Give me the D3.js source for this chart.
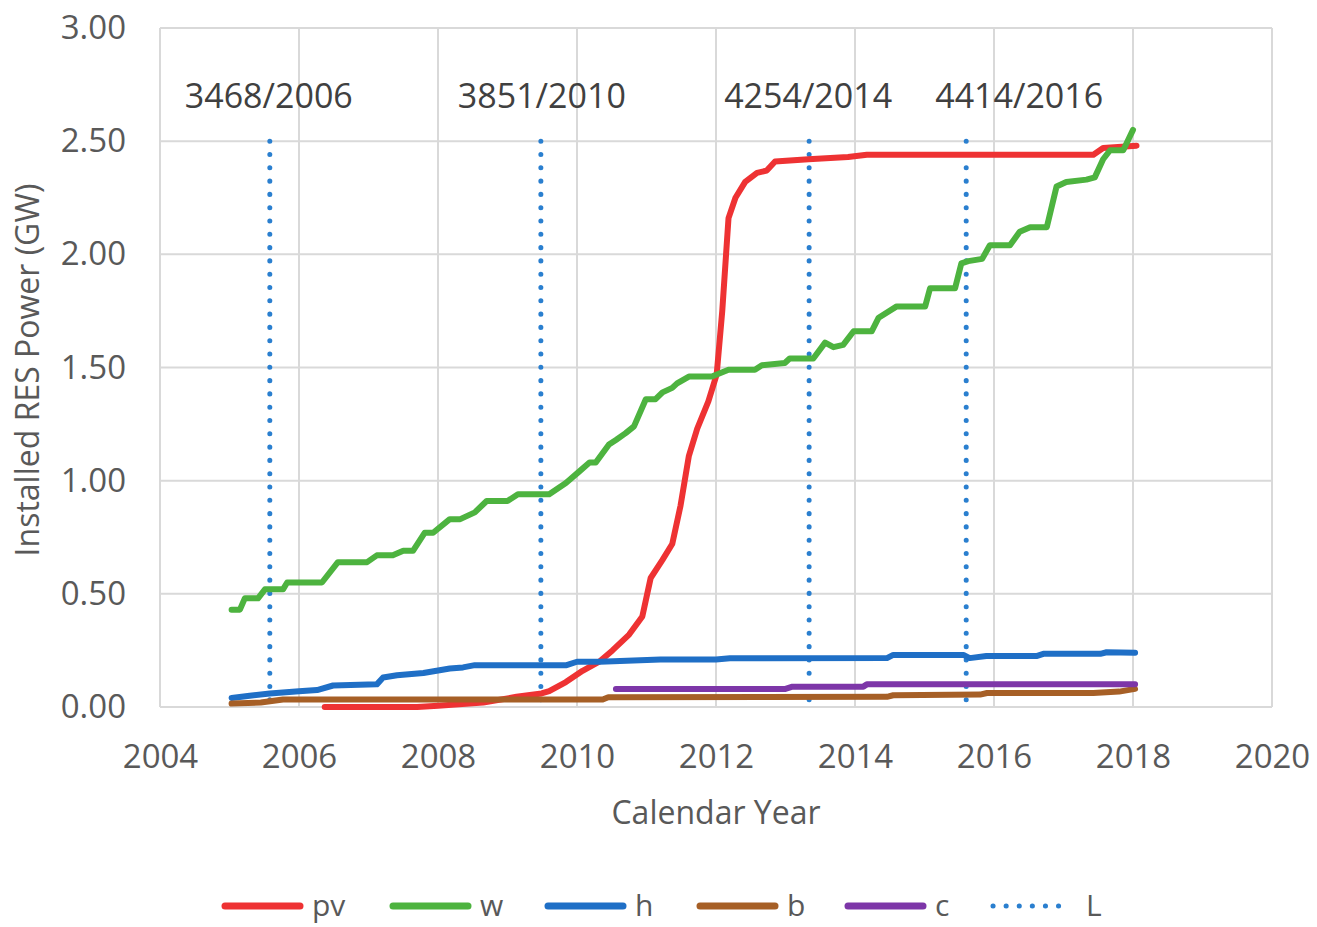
<!doctype html>
<html>
  <head>
    <meta charset='utf-8'>
    <script src="https://d3js.org/d3.v7.min.js"></script>
    <style>
      body { margin: 0; background: #fff; }
      text { font-family: "Open Sans", sans-serif; }
    </style>
  </head>
  <body>
  <svg width="1317" height="927"></svg>
  <script>
    // installed power (GW) by calendar year
    const pv = [[2006.37,0],[2007.7,0],[2008.0,0.005],[2008.65,0.02],[2009.13,0.045],[2009.49,0.06],[2009.6,0.07],
      [2009.84,0.11],[2010.08,0.16],[2010.32,0.20],[2010.51,0.25],[2010.75,0.32],[2010.94,0.40],[2011.06,0.57],
      [2011.23,0.65],[2011.37,0.72],[2011.49,0.89],[2011.61,1.11],[2011.73,1.23],[2011.89,1.35],[2012.01,1.47],
      [2012.09,1.75],[2012.18,2.16],[2012.28,2.25],[2012.42,2.32],[2012.59,2.36],[2012.73,2.37],[2012.85,2.41],
      [2013.33,2.42],[2013.9,2.43],[2014.17,2.44],[2017.43,2.44],[2017.57,2.47],[2018.05,2.48]];
    const w = [[2005.03,0.43],[2005.15,0.43],[2005.22,0.48],[2005.41,0.48],[2005.51,0.52],[2005.77,0.52],[2005.83,0.55],
      [2006.33,0.55],[2006.56,0.64],[2006.98,0.64],[2007.12,0.67],[2007.35,0.67],[2007.5,0.69],[2007.64,0.69],
      [2007.81,0.77],[2007.93,0.77],[2008.17,0.83],[2008.32,0.83],[2008.53,0.86],[2008.7,0.91],[2009.0,0.91],
      [2009.15,0.94],[2009.6,0.94],[2009.84,0.99],[2010.03,1.04],[2010.18,1.08],[2010.27,1.08],[2010.46,1.16],
      [2010.56,1.18],[2010.7,1.21],[2010.82,1.24],[2010.99,1.36],[2011.13,1.36],[2011.23,1.39],[2011.37,1.41],
      [2011.44,1.43],[2011.61,1.46],[2011.94,1.46],[2012.18,1.49],[2012.56,1.49],[2012.66,1.51],[2012.99,1.52],
      [2013.06,1.54],[2013.4,1.54],[2013.57,1.61],[2013.69,1.59],[2013.83,1.60],[2013.98,1.66],[2014.24,1.66],
      [2014.34,1.72],[2014.6,1.77],[2015.01,1.77],[2015.08,1.85],[2015.44,1.85],[2015.53,1.96],[2015.63,1.97],
      [2015.83,1.98],[2015.94,2.04],[2016.23,2.04],[2016.37,2.10],[2016.52,2.12],[2016.76,2.12],[2016.9,2.30],
      [2017.04,2.32],[2017.33,2.33],[2017.45,2.34],[2017.57,2.42],[2017.67,2.46],[2017.86,2.46],[2018.0,2.55]];
    const h = [[2005.03,0.04],[2005.29,0.05],[2005.58,0.06],[2006.0,0.07],[2006.26,0.075],[2006.49,0.095],[2007.12,0.10],
      [2007.21,0.13],[2007.41,0.14],[2007.79,0.15],[2007.98,0.16],[2008.17,0.17],[2008.36,0.175],[2008.53,0.185],
      [2009.85,0.185],[2010.0,0.20],[2010.33,0.20],[2011.2,0.21],[2012.0,0.21],[2012.2,0.215],[2014.46,0.216],
      [2014.55,0.23],[2015.56,0.23],[2015.65,0.216],[2015.89,0.225],[2016.61,0.225],[2016.71,0.235],[2017.53,0.235],
      [2017.62,0.242],[2018.03,0.24]];
    const b = [[2005.03,0.015],[2005.45,0.02],[2005.77,0.033],[2010.37,0.033],[2010.45,0.043],[2014.46,0.045],
      [2014.55,0.052],[2015.8,0.055],[2015.9,0.062],[2017.43,0.062],[2017.8,0.068],[2018.03,0.08]];
    const c = [[2010.56,0.08],[2013.0,0.08],[2013.1,0.09],[2014.12,0.09],[2014.17,0.1],[2018.03,0.1]];

    const markerYears = [2005.58, 2009.48, 2013.34, 2015.6];
    const markerLabels = ["3468/2006", "3851/2010", "4254/2014", "4414/2016"];
    const xTicks = [2004, 2006, 2008, 2010, 2012, 2014, 2016, 2018, 2020];
    const yTicks = [0, 0.5, 1, 1.5, 2, 2.5, 3];

    const series = [
      {name: "pv", data: pv, color: "#ee3233"},
      {name: "w", data: w, color: "#4db33f"},
      {name: "h", data: h, color: "#1f6fc6"},
      {name: "b", data: b, color: "#a65f26"},
      {name: "c", data: c, color: "#7d36a8"}
    ];
    const markerColor = "#2a7fcf";

    const svg = d3.select("svg");
    const x = d3.scaleLinear().domain([2004, 2020]).range([160, 1272]);
    const y = d3.scaleLinear().domain([0, 3]).range([707, 28]);

    // grid
    svg.append("g").selectAll("line").data(yTicks).join("line")
      .attr("x1", x(2004)).attr("x2", x(2020))
      .attr("y1", d => y(d)).attr("y2", d => y(d))
      .attr("stroke", "#d9d9d9").attr("stroke-width", 2);
    svg.append("g").selectAll("line").data(xTicks).join("line")
      .attr("x1", d => x(d)).attr("x2", d => x(d))
      .attr("y1", y(0)).attr("y2", y(3))
      .attr("stroke", "#d9d9d9").attr("stroke-width", 2);

    // axes (labels only, lines come from grid)
    const xAxis = svg.append("g").attr("transform", `translate(0,${y(0)})`)
      .call(d3.axisBottom(x).tickValues(xTicks).tickFormat(d3.format("d")).tickSize(0).tickPadding(43));
    const yAxis = svg.append("g").attr("transform", `translate(${x(2004)},0)`)
      .call(d3.axisLeft(y).tickValues(yTicks).tickFormat(d3.format(".2f")).tickSize(0).tickPadding(34));
    [xAxis, yAxis].forEach(a => {
      a.select(".domain").remove();
      a.selectAll("text").attr("font-size", 33).attr("fill", "#595959")
        .style("font-family", "'Open Sans', sans-serif");
    });
    xAxis.selectAll("text").attr("dy", "0.55em");

    // marker lines
    svg.append("g").selectAll("line").data(markerYears).join("line")
      .attr("x1", d => x(d)).attr("x2", d => x(d))
      .attr("y1", y(2.5)).attr("y2", y(0) + 6)
      .attr("stroke", markerColor).attr("stroke-width", 5)
      .attr("stroke-linecap", "round").attr("stroke-dasharray", "0.1 13.2");
    const labelShift = [-1, 1, -1, 53];
    svg.append("g").selectAll("text").data(markerLabels).join("text")
      .attr("x", (d, i) => x(markerYears[i]) + labelShift[i])
      .attr("y", 108)
      .attr("text-anchor", "middle")
      .attr("font-size", 34).attr("fill", "#404040")
      .text(d => d);

    // series
    const line = d3.line().x(d => x(d[0])).y(d => y(d[1]));
    svg.append("g").selectAll("path").data(series).join("path")
      .attr("d", d => line(d.data))
      .attr("fill", "none")
      .attr("stroke", d => d.color)
      .attr("stroke-width", 6)
      .attr("stroke-linejoin", "round")
      .attr("stroke-linecap", "round");

    // axis titles
    svg.append("text")
      .attr("transform", "translate(39,370) rotate(-90)")
      .attr("text-anchor", "middle")
      .attr("font-size", 32).attr("fill", "#595959")
      .text("Installed RES Power (GW)");
    svg.append("text")
      .attr("x", 716).attr("y", 824)
      .attr("text-anchor", "middle")
      .attr("font-size", 32).attr("fill", "#595959")
      .text("Calendar Year");

    // legend
    const legendItems = series.map(s => ({name: s.name, color: s.color, dotted: false}))
      .concat([{name: "L", color: markerColor, dotted: true}]);
    const legendX = [222, 390, 545, 697, 845, 990];
    const lg = svg.append("g").selectAll("g").data(legendItems).join("g")
      .attr("transform", (d, i) => `translate(${legendX[i]},906)`);
    lg.append("line")
      .attr("x1", 3).attr("x2", 78)
      .attr("stroke", d => d.color)
      .attr("stroke-width", d => d.dotted ? 5 : 7)
      .attr("stroke-linecap", "round")
      .attr("stroke-dasharray", d => d.dotted ? "0.1 13" : null);
    lg.append("text")
      .attr("x", d => d.dotted ? 96 : 90).attr("y", 10)
      .attr("font-size", 30).attr("fill", "#595959")
      .text(d => d.name);
  </script>
  </body>
</html>
